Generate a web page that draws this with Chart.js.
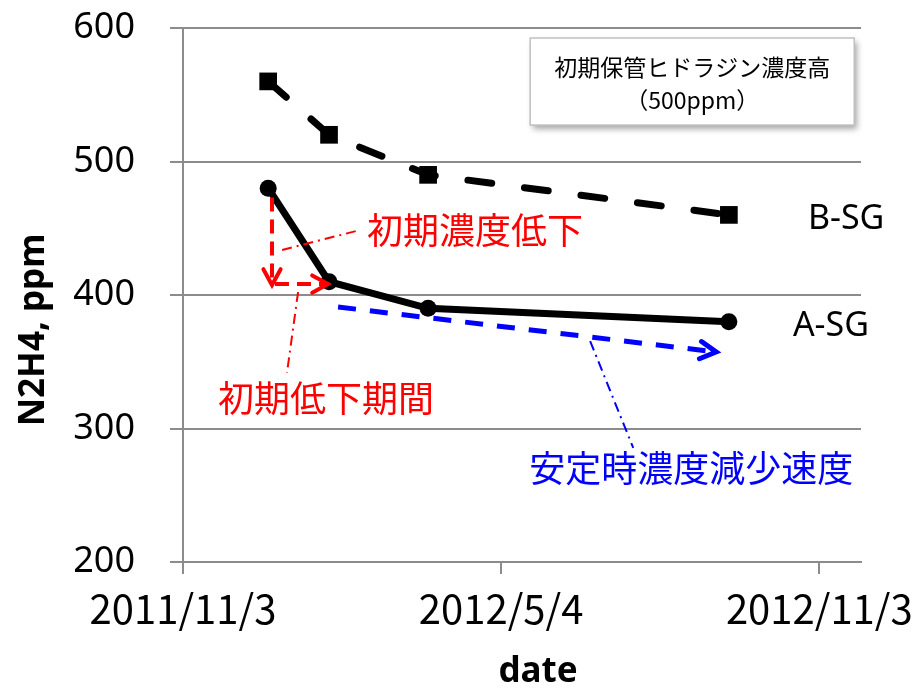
<!DOCTYPE html>
<html>
<head>
<meta charset="utf-8">
<script src="https://cdn.jsdelivr.net/npm/chart.js@4/dist/chart.umd.min.js"></script>
<style>
  body { margin: 0; background: #fff; }
  canvas { display: block; }
</style>
</head>
<body>
<canvas id="grafico" width="917" height="692"></canvas>
<script>
// datos
const fechas = ['2011/12/22', '2012/1/26', '2012/3/23', '2012/9/12'];
const serieB = [560, 520, 490, 460];
const serieA = [480, 410, 390, 380];
const nombres = ['B-SG', 'A-SG'];
const fechasEje = ['2011/11/3', '2012/5/4', '2012/11/3'];
const inicioEje = '2011/11/3';
const diasEje = 390;
const ticksY = [200, 300, 400, 500, 600];

const GRIS = '#8c8c8c';
const JP = '"Noto Sans CJK JP", "Noto Sans", sans-serif';

function aDias(f) {
    const [a, m, d] = f.split('/').map(Number);
    const [a0, m0, d0] = inicioEje.split('/').map(Number);
    return (Date.UTC(a, m - 1, d) - Date.UTC(a0, m0 - 1, d0)) / 86400000;
}
function aFecha(dias) {
    const [a0, m0, d0] = inicioEje.split('/').map(Number);
    const f = new Date(Date.UTC(a0, m0 - 1, d0) + dias * 86400000);
    return f.getUTCFullYear() + '/' + (f.getUTCMonth() + 1) + '/' + f.getUTCDate();
}

// notas del grafico en unidades de datos (dias, ppm)
const notas = {
    id: 'notas',
    afterDatasetsDraw(chart) {
        const ctx = chart.ctx;
        const sx = chart.scales.x, sy = chart.scales.y;
        const px = d => sx.getPixelForValue(d);
        const py = v => sy.getPixelForValue(v);

        function linea(x1, y1, x2, y2, color, ancho, dash) {
            ctx.save();
            ctx.strokeStyle = color;
            ctx.lineWidth = ancho;
            ctx.setLineDash(dash);
            ctx.beginPath();
            ctx.moveTo(px(x1), py(y1));
            ctx.lineTo(px(x2), py(y2));
            ctx.stroke();
            ctx.restore();
        }
        function flecha(x1, y1, x2, y2, color, ancho, dash) {
            linea(x1, y1, x2, y2, color, ancho, dash);
            const ax = px(x1), ay = py(y1), bx = px(x2), by = py(y2);
            const ang = Math.atan2(by - ay, bx - ax);
            ctx.save();
            ctx.strokeStyle = color;
            ctx.lineWidth = ancho;
            ctx.lineCap = 'round';
            ctx.beginPath();
            ctx.moveTo(bx - 18 * Math.cos(ang - 0.5), by - 18 * Math.sin(ang - 0.5));
            ctx.lineTo(bx, by);
            ctx.lineTo(bx - 18 * Math.cos(ang + 0.5), by - 18 * Math.sin(ang + 0.5));
            ctx.stroke();
            ctx.restore();
        }
        function texto(t, x, y, color, fuente, alin) {
            ctx.save();
            ctx.fillStyle = color;
            ctx.font = fuente;
            ctx.textAlign = alin;
            ctx.textBaseline = 'middle';
            ctx.fillText(t, px(x), py(y));
            ctx.restore();
        }

        // caida inicial (rojo)
        flecha(51.2, 473, 51.2, 407.5, '#ff0000', 4, [14, 8]);
        flecha(52.9, 408.2, 83.4, 408.2, '#ff0000', 4, [14, 8]);
        linea(57, 433.7, 101.9, 448.7, '#ff0000', 2, [10, 5, 2, 5]);
        texto('初期濃度低下', 105.9, 448.7, '#ff0000', '36px ' + JP, 'left');
        linea(66.2, 402.2, 59.8, 341.6, '#ff0000', 2, [10, 5, 2, 5]);
        texto('初期低下期間', 82.3, 322.8, '#ff0000', '36px ' + JP, 'center');

        // tendencia estable (azul)
        flecha(89.2, 391, 306.7, 357.3, '#0000ff', 5, [18, 14]);
        linea(234.2, 365.5, 259, 285.4, '#0000ff', 2, [10, 5, 2, 5]);
        texto('安定時濃度減少速度', 292.3, 270.4, '#0000ff', '36px ' + JP, 'center');

        // cuadro de texto
        const x1 = px(199.7), y1 = py(592.5), x2 = px(386.1), y2 = py(527.3);
        ctx.save();
        ctx.shadowColor = 'rgba(0,0,0,0.35)';
        ctx.shadowBlur = 6;
        ctx.shadowOffsetX = 3;
        ctx.shadowOffsetY = 4;
        ctx.fillStyle = '#fff';
        ctx.fillRect(x1, y1, x2 - x1, y2 - y1);
        ctx.restore();
        ctx.save();
        ctx.strokeStyle = '#c0c0c0';
        ctx.lineWidth = 1.5;
        ctx.strokeRect(x1, y1, x2 - x1, y2 - y1);
        ctx.restore();
        texto('初期保管ヒドラジン濃度高', 292.9, 570.8, '#000', '23px ' + JP, 'center');
        texto('（500ppm）', 292.9, 546.1, '#000', '23px ' + JP, 'center');

        // nombres de serie junto al ultimo punto
        [[0, 79, 4], [1, 64, 5]].forEach(([i, dx, dy]) => {
            const pts = chart.getDatasetMeta(i).data;
            const p = pts[pts.length - 1];
            ctx.save();
            ctx.fillStyle = '#000';
            ctx.font = '34px "Noto Sans", sans-serif';
            ctx.textBaseline = 'middle';
            ctx.fillText(nombres[i], p.x + dx, p.y + dy);
            ctx.restore();
        });

        // titulos de ejes
        ctx.save();
        ctx.fillStyle = '#000';
        ctx.font = 'bold 35px "Noto Sans", sans-serif';
        ctx.textAlign = 'center';
        ctx.textBaseline = 'middle';
        ctx.fillText('date', 538, 672);
        ctx.translate(34, 330);
        ctx.rotate(-Math.PI / 2);
        ctx.fillText('N2H4, ppm', 0, 0);
        ctx.restore();
    }
};

new Chart(document.getElementById('grafico'), {
    type: 'line',
    data: {
        datasets: [
            {
                label: nombres[0],
                data: fechas.map((f, i) => ({ x: aDias(f), y: serieB[i] })),
                borderColor: '#000',
                backgroundColor: '#000',
                borderWidth: 7,
                borderDash: [24, 33],
                borderCapStyle: 'round',
                pointStyle: 'rect',
                pointRadius: 12.5,
                pointBorderWidth: 0,
                tension: 0
            },
            {
                label: nombres[1],
                data: fechas.map((f, i) => ({ x: aDias(f), y: serieA[i] })),
                borderColor: '#000',
                backgroundColor: '#000',
                borderWidth: 7,
                pointStyle: 'circle',
                pointRadius: 8.5,
                pointBorderWidth: 0,
                tension: 0
            }
        ]
    },
    options: {
        responsive: false,
        animation: false,
        layout: { padding: { top: 28, right: 56, left: 0, bottom: 0 } },
        plugins: { legend: { display: false }, tooltip: { enabled: false } },
        scales: {
            x: {
                type: 'linear',
                min: 0,
                max: diasEje,
                afterBuildTicks: s => { s.ticks = fechasEje.map(f => ({ value: aDias(f) })); },
                afterFit: s => { s.height = 130; s.paddingLeft = 0; s.paddingRight = 0; },
                ticks: {
                    callback: v => aFecha(v),
                    color: '#000',
                    font: { family: JP, size: 40 },
                    padding: 11,
                    maxRotation: 0,
                    autoSkip: false
                },
                grid: { drawOnChartArea: false, color: GRIS, lineWidth: 2, tickLength: 12 },
                border: { color: GRIS, width: 2 }
            },
            y: {
                min: ticksY[0],
                max: ticksY[ticksY.length - 1],
                afterBuildTicks: s => { s.ticks = ticksY.map(v => ({ value: v })); },
                afterFit: s => { s.width = 183; s.paddingTop = 0; s.paddingBottom = 0; },
                ticks: {
                    color: '#000',
                    font: { family: '"Noto Sans", sans-serif', size: 36 },
                    padding: 35
                },
                grid: { color: GRIS, lineWidth: 2, tickLength: 13 },
                border: { color: GRIS, width: 2 }
            }
        }
    },
    plugins: [notas]
});
</script>
</body>
</html>
